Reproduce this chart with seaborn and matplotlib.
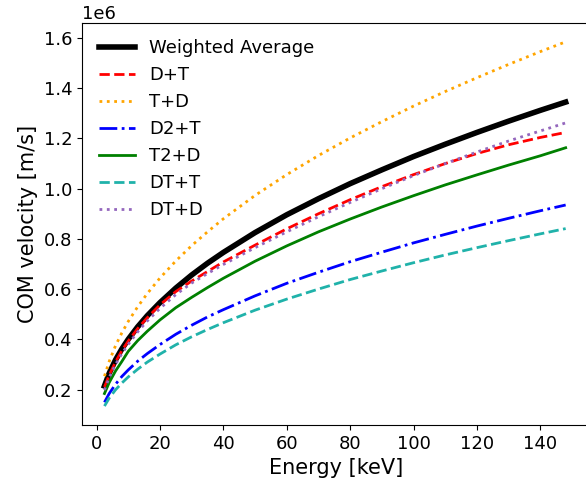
import matplotlib
matplotlib.use("Agg")
import matplotlib.pyplot as plt
import pandas as pd
import seaborn as sns

# beam energy [keV]
energy = [2.5, 4, 6, 8, 10, 13, 16, 20, 25, 30, 35, 40, 50, 60, 70, 80, 90, 100, 110, 120, 130, 140, 148]

# centre-of-mass velocity, units of 1e6 m/s
weighted_avg = [0.214, 0.265, 0.318, 0.362, 0.400, 0.450, 0.494, 0.546, 0.604, 0.656, 0.703, 0.746,
                0.825, 0.896, 0.960, 1.020, 1.075, 1.128, 1.177, 1.224, 1.269, 1.312, 1.345]
d_t = [0.210, 0.257, 0.310, 0.355, 0.393, 0.443, 0.486, 0.537, 0.590, 0.632, 0.670, 0.708,
       0.775, 0.840, 0.900, 0.956, 1.008, 1.056, 1.100, 1.140, 1.175, 1.204, 1.224]
t_d = [0.253, 0.312, 0.375, 0.426, 0.471, 0.530, 0.582, 0.644, 0.712, 0.773, 0.828, 0.880,
       0.973, 1.056, 1.132, 1.202, 1.267, 1.329, 1.387, 1.442, 1.495, 1.546, 1.585]
d2_t = [0.149, 0.184, 0.221, 0.252, 0.278, 0.313, 0.343, 0.379, 0.420, 0.456, 0.489, 0.518,
        0.573, 0.623, 0.667, 0.709, 0.747, 0.784, 0.818, 0.851, 0.882, 0.912, 0.935]
t2_d = [0.184, 0.228, 0.274, 0.312, 0.352, 0.395, 0.432, 0.477, 0.526, 0.567, 0.606, 0.643,
        0.711, 0.772, 0.828, 0.879, 0.927, 0.972, 1.015, 1.055, 1.094, 1.131, 1.163]
dt_t = [0.134, 0.166, 0.199, 0.226, 0.250, 0.281, 0.309, 0.341, 0.378, 0.410, 0.439, 0.466,
        0.516, 0.560, 0.600, 0.638, 0.672, 0.705, 0.736, 0.765, 0.793, 0.820, 0.841]
dt_d = [0.198, 0.248, 0.300, 0.343, 0.380, 0.430, 0.473, 0.523, 0.578, 0.624, 0.662, 0.698,
        0.765, 0.828, 0.888, 0.945, 1.000, 1.052, 1.100, 1.146, 1.190, 1.230, 1.262]

series = [
    ("Weighted Average", weighted_avg, "black", "-", 4),
    ("D+T", d_t, "red", "--", 2),
    ("T+D", t_d, "orange", ":", 2),
    ("D2+T", d2_t, "blue", "-.", 2),
    ("T2+D", t2_d, "green", "-", 2),
    ("DT+T", dt_t, "lightseagreen", "--", 2),
    ("DT+D", dt_d, "tab:purple", ":", 2),
]

fig = plt.figure(figsize=(5.86, 4.87), dpi=100)
ax = fig.add_axes([0.1404, 0.1273, 0.866, 0.826])

for name, vals, color, ls, lw in series:
    df = pd.DataFrame({"E": energy, "v": [v * 1e6 for v in vals]})
    sns.lineplot(data=df, x="E", y="v", ax=ax, color=color, linestyle=ls,
                 linewidth=lw, label=name)

ax.set_xlim(-4.5, 155.6)
ax.set_ylim(0.0586e6, 1.661e6)
ax.set_xticks(range(0, 141, 20))
ax.set_xlabel("Energy [keV]", fontsize=15)
ax.set_ylabel("COM velocity [m/s]", fontsize=15)
ax.tick_params(labelsize=13)
ax.yaxis.get_offset_text().set_fontsize(13)
ax.legend(loc="upper left", frameon=False, fontsize=13)

fig.savefig("out.png", dpi=100)
